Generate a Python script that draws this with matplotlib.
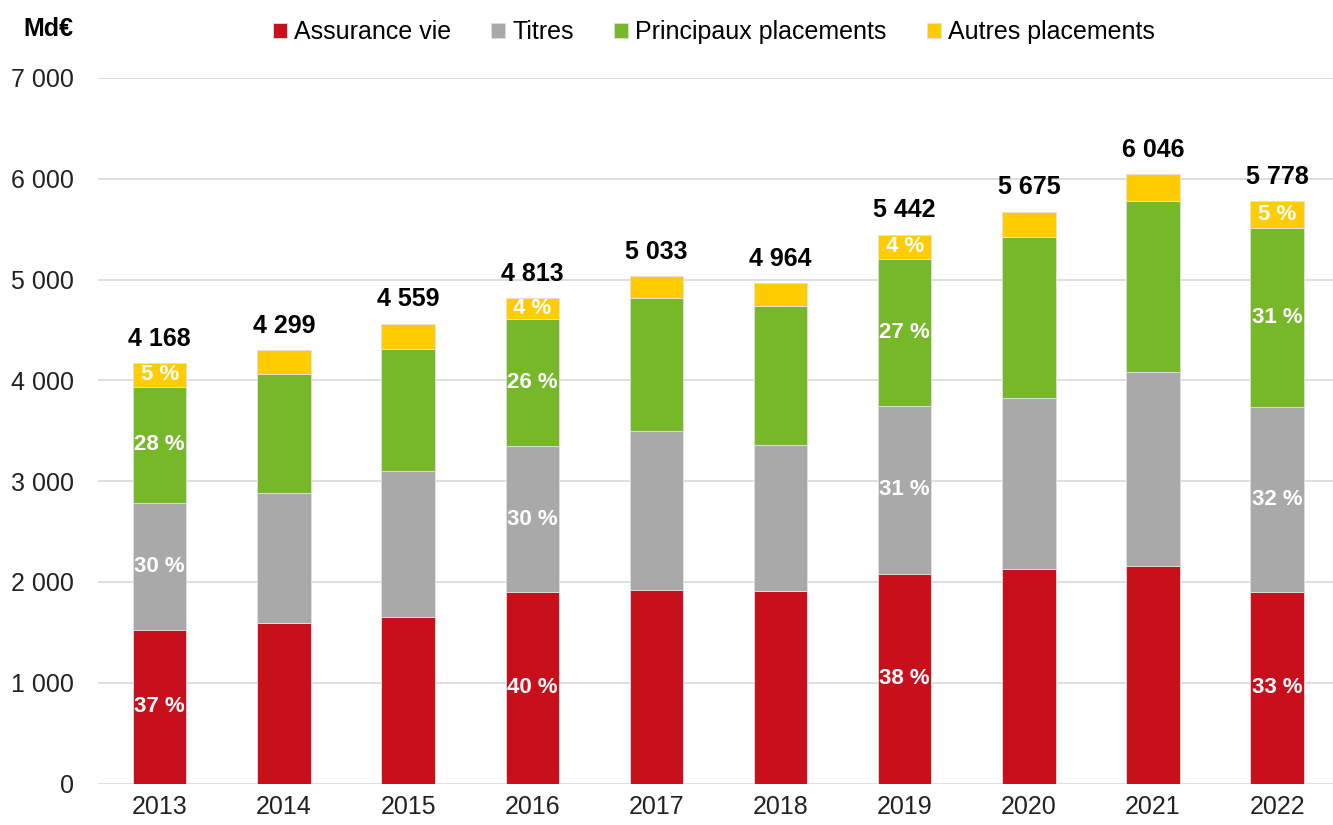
import matplotlib.pyplot as plt
import numpy as np

plt.rcParams['font.family'] = ['Liberation Sans', 'DejaVu Sans']

# Data (Md€)
years = ['2013', '2014', '2015', '2016', '2017', '2018', '2019', '2020', '2021', '2022']
assurance_vie = [1527, 1596, 1653, 1898, 1924, 1908, 2076, 2129, 2162, 1901]
titres = [1260, 1290, 1449, 1452, 1575, 1452, 1674, 1700, 1925, 1836]
principaux = [1151, 1172, 1211, 1258, 1320, 1382, 1456, 1595, 1692, 1770]
autres = [230, 241, 246, 205, 214, 222, 236, 251, 267, 271]
totals = [4168, 4299, 4559, 4813, 5033, 4964, 5442, 5675, 6046, 5778]

# share labels shown only on some bars
pct_assurance = ['37 %', '', '', '40 %', '', '', '38 %', '', '', '33 %']
pct_titres = ['30 %', '', '', '30 %', '', '', '31 %', '', '', '32 %']
pct_principaux = ['28 %', '', '', '26 %', '', '', '27 %', '', '', '31 %']
pct_autres = ['5 %', '', '', '4 %', '', '', '4 %', '', '', '5 %']

series = [
    ('Assurance vie', assurance_vie, pct_assurance, '#C8101C'),
    ('Titres', titres, pct_titres, '#A9A9A9'),
    ('Principaux placements', principaux, pct_principaux, '#77B82B'),
    ('Autres placements', autres, pct_autres, '#FFCC00'),
]


def fmt(v):
    return f'{int(v):,}'.replace(',', ' ')


fig = plt.figure(figsize=(13.33, 8.25), dpi=100)
ax = fig.add_axes([0.0733, 0.0503, 0.9267, 0.8552])

x = np.arange(len(years))
bottom = np.zeros(len(years))
width = 0.43
for name, vals, labels, color in series:
    vals = np.array(vals, dtype=float)
    ax.bar(x, vals, width, bottom=bottom, color=color, label=name,
           edgecolor='#E0E0E0', linewidth=0.6, zorder=3)
    for i, lab in enumerate(labels):
        if lab:
            ax.text(x[i], bottom[i] + vals[i] / 2, lab, ha='center', va='center',
                    color='white', fontsize=16, fontweight='bold', zorder=4)
    bottom += vals

for i, t in enumerate(totals):
    ax.annotate(fmt(t), (x[i], bottom[i]), xytext=(0, 9), textcoords='offset points',
                ha='center', va='bottom', fontsize=18, fontweight='bold', color='black')

ax.set_ylim(0, 7000)
ax.set_xlim(-0.5, 9.45)
ax.set_yticks(np.arange(0, 7001, 1000))
ax.set_yticklabels([fmt(v) for v in np.arange(0, 7001, 1000)])
ax.set_xticks(x)
ax.set_xticklabels(years)
ax.tick_params(axis='both', length=0, labelsize=18, colors='#222222')
ax.tick_params(axis='y', pad=17)
ax.tick_params(axis='x', pad=8)
ax.yaxis.grid(True, color='#D9D9D9', linewidth=1.2, zorder=0)
ax.set_axisbelow(True)
for s in ax.spines.values():
    s.set_visible(False)

fig.text(48 / 1333, 1 - 29 / 825, 'Md€', ha='center', va='center',
         fontsize=18, fontweight='bold')

fig.legend(loc='center', bbox_to_anchor=(714 / 1333, 1 - 32 / 825), ncol=4,
           frameon=False, fontsize=18, handlelength=0.55, handleheight=0.55,
           handletextpad=0.3, columnspacing=1.6)

fig.savefig('out.png', dpi=100)
